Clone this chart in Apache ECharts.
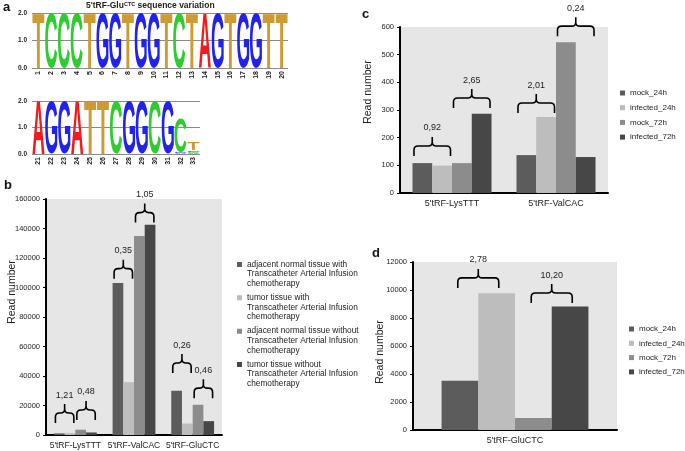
<!DOCTYPE html>
<html lang="en">
<head>
<meta charset="UTF-8">
<title>5'tRF sequence and read numbers</title>
<script src="https://cdn.jsdelivr.net/npm/echarts@6/dist/echarts.min.js"></script>
<style>
    * { margin: 0; padding: 0; }
    body { background: #fff; }
    #chart { width: 685px; height: 451px; }
</style>
</head>
<body>
<div id="chart"></div>
<script>
// ---- panel a : sequence logo (letter, bits), bottom to top ----
var logoPos1 = ['1','2','3','4','5','6','7','8','9','10','11','12','13','14','15','16','17','18','19','20'];
var logoPos2 = ['21','22','23','24','25','26','27','28','29','30','31','32','33'];
var logoStacks1 = [
    [['T', 2]], [['C', 2]], [['C', 2]], [['C', 2]], [['T', 2]],
    [['G', 2]], [['G', 2]], [['T', 2]], [['G', 2]], [['G', 2]],
    [['T', 2]], [['C', 2]], [['T', 2]], [['A', 2]], [['G', 2]],
    [['T', 2]], [['G', 2]], [['G', 2]], [['T', 2]], [['T', 2]]
];
var logoStacks2 = [
    [['A', 2]], [['G', 2]], [['G', 2]], [['A', 2]], [['T', 2]],
    [['T', 2]], [['C', 2]], [['G', 2]], [['G', 2]], [['C', 2]],
    [['G', 2]],
    [['A', 0.03], ['G', 0.04], ['C', 1.3]],
    [['A', 0.04], ['C', 0.05], ['G', 0.06], ['T', 0.3]]
];
var letterColors = { A: '#f01c1c', C: '#2ecc2e', G: '#2222ee', T: '#cc9b33' };

// ---- panel b ----
var bCategories = ["5'tRF-LysTTT", "5'tRF-ValCAC", "5'tRF-GluCTC"];
var bNames = [
    'adjacent normal tissue with\nTranscatheter Arterial Infusion\nchemotherapy',
    'tumor tissue with\nTranscatheter Arterial Infusion\nchemotherapy',
    'adjacent normal tissue without\nTranscatheter Arterial Infusion\nchemotherapy',
    'tumor tissue without\nTranscatheter Arterial Infusion\nchemotherapy'
];
var bAdjWith = [1100, 103000, 30000];
var bTumWith = [1330, 35800, 7800];
var bAdjWithout = [3600, 135000, 20500];
var bTumWithout = [1730, 142500, 9400];
// [category, first bar of pair, level, fold change]
var bBraces = [
    [0, 0, 8100, '1,21'], [0, 2, 10200, '0,48'],
    [1, 0, 106000, '0,35'], [1, 2, 144000, '1,05'],
    [2, 0, 42000, '0,26'], [2, 2, 25000, '0,46']
];

// ---- panels c and d ----
var timeNames = ['mock_24h', 'infected_24h', 'mock_72h', 'infected_72h'];
var cCategories = ["5'tRF-LysTTT", "5'tRF-ValCAC"];
var cMock24 = [108, 137];
var cInf24 = [99, 275];
var cMock72 = [108, 545];
var cInf72 = [286, 130];
var cBraces = [
    [0, 0, 134, '0,92'], [0, 2, 307, '2,65'],
    [1, 0, 289, '2,01'], [1, 2, 567, '0,24']
];
var dCategories = ["5'tRF-GluCTC"];
var dMock24 = [3510];
var dInf24 = [9760];
var dMock72 = [865];
var dInf72 = [8830];
var dBraces = [[0, 0, 10150, '2,78'], [0, 2, 9070, '10,20']];

var barColors = ['#5c5c5c', '#bdbdbd', '#8c8c8c', '#474747'];
var FONT = '"Liberation Sans", Arial, sans-serif';

// glyph boxes so a letter can be stretched to fill its cell
var LOGO_FONT = 'bold 100px ' + FONT;
var glyphBox = {};
(function () {
    var ctx = document.createElement('canvas').getContext('2d');
    ctx.font = LOGO_FONT;
    ctx.textBaseline = 'middle';
    ctx.textAlign = 'left';
    'ACGT'.split('').forEach(function (ch) {
        var m = ctx.measureText(ch);
        glyphBox[ch] = {
            l: m.actualBoundingBoxLeft, r: m.actualBoundingBoxRight,
            a: m.actualBoundingBoxAscent, d: m.actualBoundingBoxDescent
        };
    });
})();

function logoItem(stacks) {
    return function (params, api) {
        var idx = api.value(0);
        var stack = stacks[params.dataIndex];
        var w = api.size([1, 0])[0];
        var x0 = api.coord([idx, 0])[0] - w / 2 + 0.4;
        var cw = w - 0.8;
        var cum = 0;
        var children = [];
        stack.forEach(function (s) {
            var yb = api.coord([idx, cum])[1];
            cum += s[1];
            var yt = api.coord([idx, cum])[1];
            var g = glyphBox[s[0]];
            var sx = cw / (g.l + g.r);
            var sy = (yb - yt) / (g.a + g.d);
            children.push({
                type: 'text', x: x0 + g.l * sx, y: yt + g.a * sy,
                scaleX: sx, scaleY: sy, silent: true,
                style: {
                    text: s[0], x: 0, y: 0, font: LOGO_FONT,
                    fill: letterColors[s[0]], align: 'left', verticalAlign: 'middle'
                }
            });
        });
        return { type: 'group', children: children };
    };
}

function braceItem(list, gapFrac) {
    return function (params, api) {
        var b = list[params.dataIndex];
        var cx = api.coord([b[0], 0])[0];
        var band = api.size([1, 0])[0];
        var bw = band * (1 - gapFrac) / 4;
        var mid = cx - 2 * bw + b[1] * bw + bw;
        var half = Math.min(bw - 1.5, 20.5);
        var x1 = mid - half, x2 = mid + half;
        var yE = api.coord([b[0], b[2]])[1];
        var yH = yE - 10, yT = yH - 9, r = 4;
        var d = 'M' + x1 + ',' + yE + 'L' + x1 + ',' + (yH + r) +
            'Q' + x1 + ',' + yH + ',' + (x1 + r) + ',' + yH +
            'L' + (mid - r) + ',' + yH +
            'Q' + mid + ',' + yH + ',' + mid + ',' + (yH - r) +
            'L' + mid + ',' + yT +
            'M' + mid + ',' + (yH - r) +
            'Q' + mid + ',' + yH + ',' + (mid + r) + ',' + yH +
            'L' + (x2 - r) + ',' + yH +
            'Q' + x2 + ',' + yH + ',' + x2 + ',' + (yH + r) +
            'L' + x2 + ',' + yE;
        return {
            type: 'group',
            children: [
                { type: 'path', shape: { pathData: d }, style: { fill: 'none', stroke: '#000', lineWidth: 1.6 } },
                { type: 'text', style: { text: b[3], x: mid, y: yT - 9, align: 'center', verticalAlign: 'middle',
                    font: '9px ' + FONT, fill: '#222' } }
            ]
        };
    };
}

function logoX(grid, data) {
    return {
        type: 'category', gridIndex: grid, data: data,
        axisLine: { show: false }, axisTick: { show: false },
        axisLabel: { interval: 0, rotate: 90, margin: 3, fontSize: 7, fontWeight: 'bold', color: '#222', fontFamily: FONT }
    };
}
function logoY(grid) {
    return {
        type: 'value', gridIndex: grid, min: 0, max: 2, interval: 1,
        axisLine: { show: false }, axisTick: { show: false },
        splitLine: { lineStyle: { color: '#8a8a8a', width: 1 } },
        axisLabel: { margin: 5, fontSize: 6.5, fontWeight: 'bold', color: '#222', fontFamily: FONT,
            formatter: function (v) { return v.toFixed(1); } }
    };
}
function barX(grid, data, size) {
    return {
        type: 'category', gridIndex: grid, data: data,
        axisLine: { lineStyle: { color: '#000', width: 2 } }, axisTick: { show: false },
        axisLabel: { interval: 0, hideOverlap: false, margin: 6, fontSize: size, color: '#222', fontFamily: FONT }
    };
}
function barY(grid, max, step, gap, pad) {
    return {
        type: 'value', gridIndex: grid, min: 0, max: max, interval: step,
        name: 'Read number', nameLocation: 'middle', nameGap: gap, nameMoveOverlap: false,
        nameTextStyle: { fontSize: 10.5, color: '#222', fontFamily: FONT, padding: pad },
        axisLine: { show: true, lineStyle: { color: '#000', width: 2 } },
        axisTick: { show: true, length: 3, lineStyle: { color: '#000' } },
        splitLine: { show: false },
        axisLabel: { margin: 6, fontSize: 7.5, color: '#222', fontFamily: FONT,
            formatter: function (v) { return String(v); } }
    };
}
function bars(names, lists, grid, gap) {
    return lists.map(function (vals, i) {
        return {
            type: 'bar', name: names[i], data: vals, xAxisIndex: grid, yAxisIndex: grid,
            barGap: '0%', barCategoryGap: gap, itemStyle: { color: barColors[i] }
        };
    });
}

var chart = echarts.init(document.getElementById('chart'));
var series = [
    { type: 'custom', xAxisIndex: 0, yAxisIndex: 0, renderItem: logoItem(logoStacks1),
      data: logoStacks1.map(function (s, i) { return [i, 2]; }) },
    { type: 'custom', xAxisIndex: 1, yAxisIndex: 1, renderItem: logoItem(logoStacks2),
      data: logoStacks2.map(function (s, i) { return [i, 2]; }) }
];
series = series.concat(bars(bNames, [bAdjWith, bTumWith, bAdjWithout, bTumWithout], 2, '27%'));
series = series.concat(bars(timeNames, [cMock24, cInf24, cMock72, cInf72], 3, '24%'));
series = series.concat(bars(timeNames, [dMock24, dInf24, dMock72, dInf72], 4, '28%'));
series.push(
    { type: 'custom', xAxisIndex: 2, yAxisIndex: 2, z: 5, renderItem: braceItem(bBraces, 0.27),
      data: bBraces.map(function (b) { return [b[0], b[2]]; }) },
    { type: 'custom', xAxisIndex: 3, yAxisIndex: 3, z: 5, renderItem: braceItem(cBraces, 0.24),
      data: cBraces.map(function (b) { return [b[0], b[2]]; }) },
    { type: 'custom', xAxisIndex: 4, yAxisIndex: 4, z: 5, renderItem: braceItem(dBraces, 0.28),
      data: dBraces.map(function (b) { return [b[0], b[2]]; }) }
);

var smallLegend = {
    orient: 'vertical', icon: 'rect', itemWidth: 5, itemHeight: 5, padding: 0,
    textStyle: { fontSize: 8, color: '#222', fontFamily: FONT, lineHeight: 10 },
    data: timeNames
};

var option = {
    animation: false,
    textStyle: { fontFamily: FONT },
    title: [
        { text: 'a', left: 3, top: 1, padding: 0, textStyle: { fontSize: 13, fontWeight: 'bold', color: '#111' } },
        { text: "{m|5'tRF-Glu}{s|CTC}{m| sequence variation}", left: 86, top: 1, padding: 0,
          textStyle: { rich: {
              m: { fontSize: 8.5, fontWeight: 'bold', color: '#222', lineHeight: 10 },
              s: { fontSize: 5.5, fontWeight: 'bold', color: '#222', verticalAlign: 'top', lineHeight: 10 }
          } } },
        { text: 'b', left: 4, top: 179, padding: 0, textStyle: { fontSize: 13, fontWeight: 'bold', color: '#111' } },
        { text: 'c', left: 362, top: 8, padding: 0, textStyle: { fontSize: 13, fontWeight: 'bold', color: '#111' } },
        { text: 'd', left: 372, top: 247, padding: 0, textStyle: { fontSize: 13, fontWeight: 'bold', color: '#111' } }
    ],
    grid: [
        { left: 32, top: 13, width: 256, height: 55 },
        { left: 32, top: 101, width: 168, height: 53 },
        { left: 46, top: 199, width: 176, height: 236, show: true, backgroundColor: '#e6e6e6', borderWidth: 0 },
        { left: 400, top: 27, width: 208, height: 166, show: true, backgroundColor: '#e6e6e6', borderWidth: 0 },
        { left: 413, top: 262, width: 204, height: 168, show: true, backgroundColor: '#e6e6e6', borderWidth: 0 }
    ],
    xAxis: [logoX(0, logoPos1), logoX(1, logoPos2), barX(2, bCategories, 8.5), barX(3, cCategories, 9), barX(4, dCategories, 9)],
    yAxis: [logoY(0), logoY(1),
        barY(2, 160000, 20000, 28.5, [0, 0, 0, 50]),
        barY(3, 600, 100, 26.5, [0, 0, 0, 36]),
        barY(4, 12000, 2000, 27.5, [0, 12, 0, 0])],
    legend: [
        { orient: 'vertical', left: 237, top: 259.5, padding: 0, itemGap: 4.2, itemWidth: 5, itemHeight: 24,
          icon: 'path://M0,0H10V10H0ZM0,48H0.01V48.01H0Z',
          textStyle: { fontSize: 8.3, color: '#222', fontFamily: FONT, lineHeight: 9.7 },
          data: bNames },
        Object.assign({}, smallLegend, { left: 620, top: 88, itemGap: 4.7 }),
        Object.assign({}, smallLegend, { left: 629, top: 324, itemGap: 4.3 })
    ],
    series: series
};
chart.setOption(option);
</script>
</body>
</html>
